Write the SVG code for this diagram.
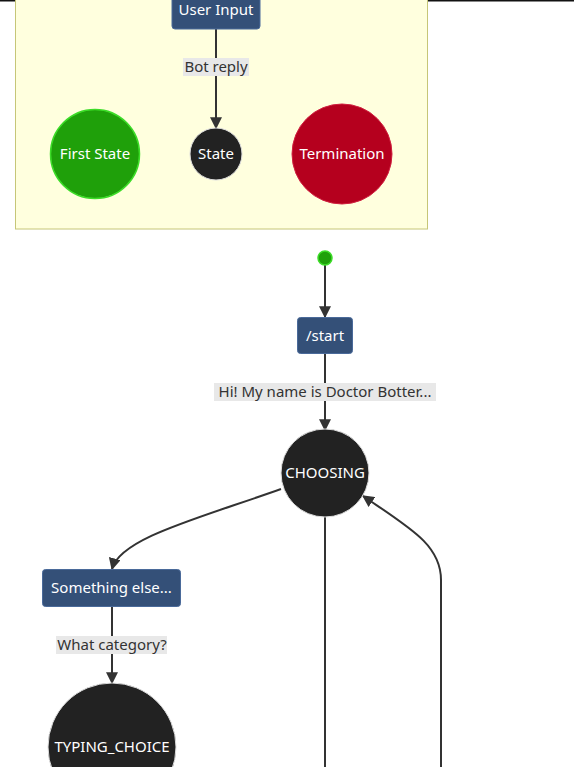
<svg xmlns="http://www.w3.org/2000/svg" width="574" height="767" viewBox="0 0 574 767">
<defs>
<marker id="arr" viewBox="0 0 10 10" refX="9" refY="5" markerWidth="12" markerHeight="12" markerUnits="userSpaceOnUse" orient="auto">
<path d="M0,0 L10,5 L0,10 z" fill="#333"/>
</marker>
<style>
text{font-family:"Noto Sans","DejaVu Sans",sans-serif;font-size:15px;text-anchor:middle;dominant-baseline:central}
.w{fill:#fff}
.l{fill:#333}
.box{fill:#345078;stroke:#4a6a9a;stroke-width:1}
.edge{fill:none;stroke:#333;stroke-width:2}
.lbg{fill:#e8e8e8}
.st{fill:#222;stroke:#ddd;stroke-width:1}
</style>
</defs>
<rect x="0" y="0" width="574" height="767" fill="#fff"/>
<line x1="0" y1="0.5" x2="574" y2="0.5" stroke="#111" stroke-width="2"/>
<g id="legend">
<rect x="15.5" y="-5" width="412" height="234" fill="#ffffde" stroke="#c6c678" stroke-width="1"/>
</g>
<g id="connectors">
<path class="edge" d="M216,29 V128" marker-end="url(#arr)"/>
<path class="edge" d="M325,265 V317" marker-end="url(#arr)"/>
<path class="edge" d="M325,354 V430" marker-end="url(#arr)"/>
<path class="edge" d="M281,489 C200,518 120,538 112,569" marker-end="url(#arr)"/>
<path class="edge" d="M112,606 V683" marker-end="url(#arr)"/>
<path class="edge" d="M325,517 V767"/>
<path class="edge" d="M441,767 V580 C441,545 410,528 363,496" marker-end="url(#arr)"/>
</g>
<g id="lbl-botreply"><rect class="lbg" x="183" y="58" width="66" height="18"/><text class="l" x="216" y="66">Bot reply</text></g>
<g id="lbl-hi"><rect class="lbg" x="214" y="383" width="222" height="18"/><text class="l" x="325" y="391">Hi! My name is Doctor Botter...</text></g>
<g id="lbl-what"><rect class="lbg" x="56" y="636" width="111" height="18"/><text class="l" x="112" y="644">What category?</text></g>
<g id="user-input"><rect class="box" x="172" y="-6" width="88" height="35" rx="3"/><text class="w" x="216" y="9">User Input</text></g>
<g id="first-state"><circle cx="95" cy="154" r="44.5" fill="#1fa00a" stroke="#3cdc28" stroke-width="1.5"/><text class="w" x="95" y="153">First State</text></g>
<g id="state"><circle class="st" cx="216" cy="154" r="26"/><text class="w" x="216" y="153">State</text></g>
<g id="termination"><circle cx="342" cy="154" r="50" fill="#b5001e" stroke="#d02040" stroke-width="1"/><text class="w" x="342" y="153">Termination</text></g>
<g id="start-dot"><circle cx="325" cy="258" r="7" fill="#1fa00a" stroke="#3cdc28" stroke-width="1.5"/></g>
<g id="start"><rect class="box" x="297.5" y="317.5" width="55" height="36" rx="3"/><text class="w" x="325" y="335">/start</text></g>
<g id="choosing"><circle class="st" cx="325" cy="473" r="44"/><text class="w" x="325" y="472">CHOOSING</text></g>
<g id="something-else"><rect class="box" x="42.5" y="569.5" width="138" height="37" rx="3"/><text class="w" x="111.5" y="587">Something else...</text></g>
<g id="typing-choice"><circle class="st" cx="112" cy="747" r="64"/><text class="w" x="112" y="746">TYPING_CHOICE</text></g>
</svg>
